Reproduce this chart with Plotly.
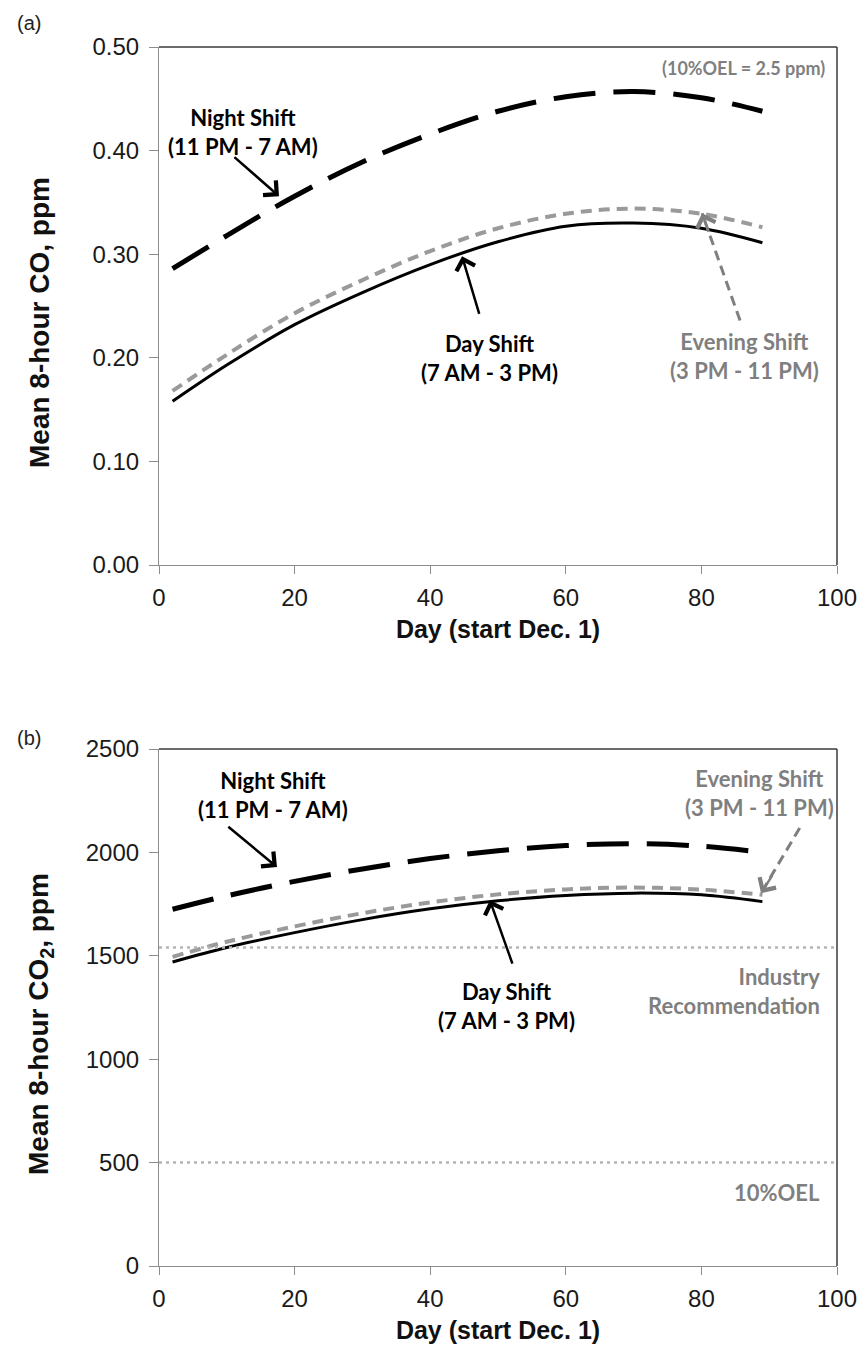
import plotly.graph_objects as go

# ---------------- data ----------------
days = [2, 10, 20, 30, 40, 50, 60, 70, 80, 89]

co_night = [0.286, 0.318, 0.356, 0.389, 0.416, 0.438, 0.452, 0.457, 0.451, 0.438]
co_day = [0.158, 0.193, 0.232, 0.263, 0.290, 0.312, 0.327, 0.330, 0.325, 0.311]
co_evening = [0.168, 0.203, 0.243, 0.275, 0.303, 0.325, 0.339, 0.344, 0.339, 0.326]

co2_night = [1725, 1790, 1860, 1920, 1970, 2008, 2033, 2042, 2030, 2000]
co2_day = [1470, 1540, 1612, 1675, 1727, 1766, 1792, 1803, 1795, 1762]
co2_evening = [1495, 1568, 1642, 1706, 1758, 1797, 1821, 1830, 1820, 1795]

industry_rec = 1540
oel_10pct = 500

x_ticks = [0, 20, 40, 60, 80, 100]
co_ticks = [0.0, 0.1, 0.2, 0.3, 0.4, 0.5]
co2_ticks = [0, 500, 1000, 1500, 2000, 2500]

BLACK = "#000000"
GREY_LINE = "#9a9a9a"
GREY_TXT = "#7f7f7f"
DOT = "#b5b5b5"
AXIS = "#8c8c8c"
TXT_FONT = "Lato"
AX_FONT = "Liberation Sans, Arial, sans-serif"

# page body adds an 8px offset; lay out in screen pixels and compensate
OFF = 8
W, H = 865, 1349
ML, MT = 159 - OFF, 47 - OFF
MR = (W + OFF) - 837
MB = (H + OFF) - 1266
PW, PH = W - ML - MR, H - MT - MB


def py2paper(sy):
    return (H - MB - (sy - OFF)) / PH


def px2paper(sx):
    return (sx - OFF - ML) / PW


fig = go.Figure()


def add_series(xa, ya, night, day, eve):
    fig.add_trace(go.Scatter(x=days, y=night, mode="lines", xaxis=xa, yaxis=ya,
                             line=dict(color=BLACK, width=5, dash="42px,18px", shape="spline"),
                             showlegend=False, name="Night Shift"))
    fig.add_trace(go.Scatter(x=days, y=eve, mode="lines", xaxis=xa, yaxis=ya,
                             line=dict(color=GREY_LINE, width=4, dash="11px,7px", shape="spline"),
                             showlegend=False, name="Evening Shift"))
    fig.add_trace(go.Scatter(x=days, y=day, mode="lines", xaxis=xa, yaxis=ya,
                             line=dict(color=BLACK, width=3, shape="spline"),
                             showlegend=False, name="Day Shift"))


add_series("x", "y", co_night, co_day, co_evening)
add_series("x2", "y2", co2_night, co2_day, co2_evening)

# reference lines in panel (b)
for val in [industry_rec, oel_10pct]:
    fig.add_trace(go.Scatter(x=[0, 100], y=[val, val], mode="lines", xaxis="x2", yaxis="y2",
                             line=dict(color=DOT, width=2.5, dash="3px,4px"),
                             showlegend=False, hoverinfo="skip"))

common_x = dict(range=[0, 100], tickvals=x_ticks, showline=True, linecolor=AXIS, linewidth=1.2,
                ticks="outside", ticklen=8, tickcolor=AXIS, tickwidth=1.2, showgrid=False,
                zeroline=False, automargin=False,
                tickfont=dict(family=AX_FONT, size=24, color="#1a1a1a"), ticklabelstandoff=3,
                title=dict(text="<b>Day (start Dec. 1)</b>",
                           font=dict(family=AX_FONT, size=25, color="#111"), standoff=10))
common_y = dict(showline=True, linecolor=AXIS, linewidth=1.2, ticks="outside", ticklen=9,
                tickcolor=AXIS, tickwidth=1.2, showgrid=False, zeroline=False, automargin=False,
                tickfont=dict(family=AX_FONT, size=24, color="#1a1a1a"), ticklabelstandoff=5)

fig.update_layout(
    width=W, height=H, margin=dict(l=ML, r=MR, t=MT, b=MB, autoexpand=False),
    paper_bgcolor="white", plot_bgcolor="white",
    xaxis=dict(domain=[0, 1], anchor="y", **common_x),
    xaxis2=dict(domain=[0, 1], anchor="y2", **common_x),
    yaxis=dict(domain=[py2paper(565), 1], anchor="x", range=[0, 0.5], tickvals=co_ticks,
               tickformat=".2f", **common_y),
    yaxis2=dict(domain=[0, py2paper(749)], anchor="x2", range=[0, 2500], tickvals=co2_ticks,
                **common_y),
)

# plot frame (top & right edges darker)
for xr, yr in [("x domain", "y domain"), ("x2 domain", "y2 domain")]:
    fig.add_shape(type="line", xref=xr, yref=yr, x0=0, x1=1, y0=1, y1=1,
                  line=dict(color="#3a3a3a", width=1.5))
    fig.add_shape(type="line", xref=xr, yref=yr, x0=1, x1=1, y0=0, y1=1,
                  line=dict(color="#3a3a3a", width=1.5))


def label(text, x, y, xr, yr, color=BLACK, size=22, xanchor="center", align="center"):
    fig.add_annotation(text=text, x=x, y=y, xref=xr, yref=yr, showarrow=False,
                       font=dict(family=TXT_FONT, size=size, color=color, weight="bold"),
                       xanchor=xanchor, yanchor="middle", align=align)


def arrow(tip, tail, xr, yr, color=BLACK):
    fig.add_annotation(text="", x=tip[0], y=tip[1], ax=tail[0], ay=tail[1], xref=xr, yref=yr,
                       axref=xr, ayref=yr, showarrow=True, arrowhead=4, arrowsize=1.5,
                       arrowwidth=2.5, arrowcolor=color)


def dashed_arrow(tip, tail, xr, yr, head_px, color=GREY_TXT):
    fig.add_shape(type="line", xref=xr, yref=yr, x0=tail[0], y0=tail[1], x1=tip[0], y1=tip[1],
                  line=dict(color=color, width=3, dash="10px,6px"))
    fig.add_annotation(text="", x=tip[0], y=tip[1], xref=xr, yref=yr, ax=head_px[0], ay=head_px[1],
                       showarrow=True, arrowhead=4, arrowsize=1.5, arrowwidth=2.5, arrowcolor=color)


# y-axis titles
for txt, cy in [("<b>Mean 8-hour CO, ppm</b>", 323), ("<b>Mean 8-hour CO<sub>2</sub>, ppm</b>", 1024)]:
    fig.add_annotation(text=txt, x=px2paper(40), y=py2paper(cy), xref="paper", yref="paper",
                       showarrow=False, textangle=-90, xanchor="center", yanchor="middle",
                       font=dict(family=AX_FONT, size=28, color="#111"))

# panel (a) annotations
label("(10%OEL = 2.5 ppm)", 98.5, 0.480, "x", "y", color=GREY_TXT, size=18, xanchor="right")
label("Night Shift<br>(11 PM - 7 AM)", 12.4, 0.418, "x", "y")
label("Day Shift<br>(7 AM - 3 PM)", 48.8, 0.200, "x", "y")
label("Evening Shift<br>(3 PM - 11 PM)", 86.4, 0.202, "x", "y", color=GREY_TXT)
arrow((17.7, 0.356), (10.9, 0.395), "x", "y")
arrow((44.7, 0.298), (47.3, 0.241), "x", "y")
dashed_arrow((80.1, 0.3395), (85.7, 0.236), "x", "y", (7, 20))

# panel (b) annotations
label("Night Shift<br>(11 PM - 7 AM)", 16.8, 2280, "x2", "y2")
label("Evening Shift<br>(3 PM - 11 PM)", 88.6, 2287, "x2", "y2", color=GREY_TXT)
label("Day Shift<br>(7 AM - 3 PM)", 51.3, 1258, "x2", "y2")
label("Industry<br>Recommendation", 97.8, 1329, "x2", "y2", color=GREY_TXT,
      xanchor="right", align="right")
label("10%OEL", 97.8, 355, "x2", "y2", color=GREY_TXT, xanchor="right", align="right")
arrow((17.4, 1929), (10.0, 2130), "x2", "y2")
arrow((48.8, 1769), (52.2, 1455), "x2", "y2")
dashed_arrow((88.8, 1803), (94.5, 2118), "x2", "y2", (12, -19))

# panel letters
for txt, pyy in [("(a)", 23), ("(b)", 738)]:
    fig.add_annotation(text=txt, x=px2paper(29), y=py2paper(pyy), xref="paper", yref="paper",
                       showarrow=False, font=dict(family=AX_FONT, size=20, color="#222"),
                       xanchor="center", yanchor="middle")

fig.write_html("out.html")
